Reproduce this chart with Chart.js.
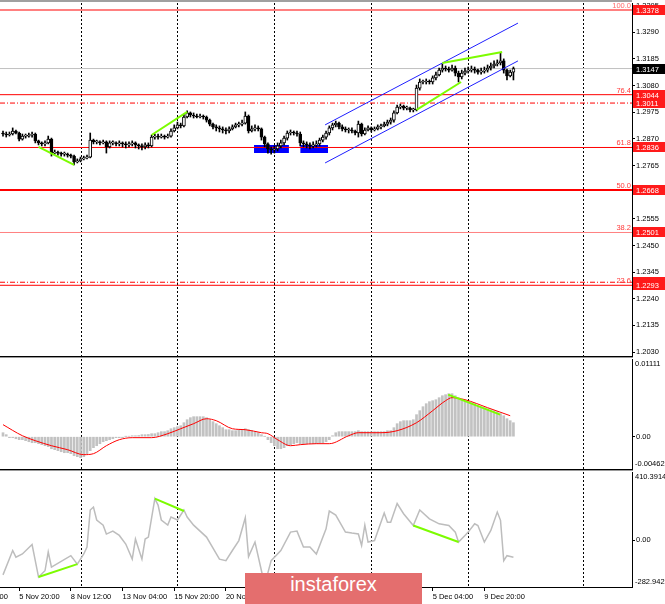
<!DOCTYPE html>
<html>
<head>
<meta charset="utf-8">
<script src="https://cdn.jsdelivr.net/npm/chart.js@4.4.0/dist/chart.umd.min.js"></script>
<style>
  body { margin: 0; background: #fff; }
  #wrap { position: relative; width: 665px; height: 604px; overflow: hidden; background: #fff; }
  #wrap canvas { position: absolute; left: 0; }
  #logo {
    position: absolute; left: 245px; top: 573px; width: 177px; height: 31px;
    background: #e46e6e; color: #fff; text-align: center; line-height: 31px;
    font: 20px "Liberation Sans", Arial, sans-serif;
  }
</style>
</head>
<body>
<div id="wrap">
  <canvas id="price" width="665" height="358" style="top:0"></canvas>
  <canvas id="macd" width="665" height="113" style="top:358px"></canvas>
  <canvas id="cci" width="665" height="133" style="top:471px"></canvas>
  <div id="logo">instaforex</div>
</div>
<script>
// GBPUSD H4 - bougies, MACD et CCI (style MT4)

// axe du temps (index de barre)
const X_MIN = -0.93, X_MAX = 194.7;
const timeBars = [-11, 5, 21, 37, 53, 69, 85, 101, 117, 133, 149];
const timeLabels = ['4 Nov 00:00', '5 Nov 20:00', '8 Nov 12:00', '13 Nov 04:00', '15 Nov 20:00', '20 Nov 12:00',
  '25 Nov 04:00', '27 Nov 20:00', '2 Dec 12:00', '5 Dec 04:00', '9 Dec 20:00'];
const gridBars = [24, 54, 84, 114, 144, 179.6];

// prix
const priceRange = [1.20144, 1.34052];
const priceTicks = [1.3395, 1.3290, 1.3185, 1.3080, 1.2975, 1.2870, 1.2765, 1.2660, 1.2555, 1.2450, 1.2345, 1.2240, 1.2135, 1.2030];
const firstOpen = 1.2893;
const closes = [
  1.2889, 1.2885, 1.2889, 1.2901, 1.2893, 1.2869, 1.2881, 1.2881, 1.2885, 1.2889,
  1.2862, 1.2854, 1.2850, 1.2854, 1.2869, 1.2814, 1.2818, 1.2814, 1.2810, 1.2810,
  1.2806, 1.2802, 1.2779, 1.2783, 1.2791, 1.2795, 1.2798, 1.2865, 1.2858, 1.2858,
  1.2854, 1.2858, 1.2838, 1.2854, 1.2854, 1.2850, 1.2854, 1.2850, 1.2846, 1.2850,
  1.2854, 1.2846, 1.2842, 1.2838, 1.2846, 1.2842, 1.2877, 1.2881, 1.2877, 1.2881,
  1.2877, 1.2881, 1.2901, 1.2913, 1.2925, 1.2921, 1.2956, 1.2972, 1.2964, 1.2960,
  1.2956, 1.2960, 1.2956, 1.2944, 1.2928, 1.2917, 1.2913, 1.2909, 1.2905, 1.2901,
  1.2909, 1.2917, 1.2925, 1.2928, 1.2932, 1.2960, 1.2901, 1.2909, 1.2913, 1.2909,
  1.2877, 1.2850, 1.2830, 1.2826, 1.2830, 1.2842, 1.2854, 1.2873, 1.2893, 1.2897,
  1.2893, 1.2889, 1.2854, 1.2850, 1.2846, 1.2842, 1.2846, 1.2850, 1.2865, 1.2877,
  1.2893, 1.2913, 1.2925, 1.2932, 1.2917, 1.2909, 1.2905, 1.2905, 1.2901, 1.2893,
  1.2928, 1.2889, 1.2905, 1.2913, 1.2905, 1.2909, 1.2917, 1.2921, 1.2928, 1.2936,
  1.2944, 1.2972, 1.2995, 1.2999, 1.2991, 1.2991, 1.2984, 1.2984, 1.3070, 1.3094,
  1.3094, 1.3098, 1.3094, 1.3110, 1.3122, 1.3141, 1.3149, 1.3145, 1.3141, 1.3149,
  1.3129, 1.3114, 1.3129, 1.3137, 1.3141, 1.3145, 1.3141, 1.3133, 1.3137, 1.3141,
  1.3149, 1.3157, 1.3165, 1.3169, 1.3177, 1.3141, 1.3118, 1.3133, 1.3147
];
const highs = [
  1.2901, 1.2897, 1.2897, 1.2913, 1.2905, 1.2897, 1.2889, 1.2889, 1.2893, 1.2897,
  1.2893, 1.2865, 1.2858, 1.2862, 1.2881, 1.2873, 1.2826, 1.2822, 1.2818, 1.2818,
  1.2814, 1.2810, 1.2806, 1.2791, 1.2798, 1.2802, 1.2806, 1.2893, 1.2869, 1.2865,
  1.2862, 1.2865, 1.2862, 1.2862, 1.2862, 1.2858, 1.2862, 1.2858, 1.2858, 1.2858,
  1.2862, 1.2858, 1.2850, 1.2850, 1.2854, 1.2854, 1.2885, 1.2889, 1.2889, 1.2889,
  1.2885, 1.2889, 1.2909, 1.2925, 1.2936, 1.2932, 1.2968, 1.2980, 1.2976, 1.2972,
  1.2968, 1.2968, 1.2964, 1.2960, 1.2948, 1.2932, 1.2925, 1.2921, 1.2917, 1.2913,
  1.2917, 1.2925, 1.2932, 1.2936, 1.2944, 1.2976, 1.2964, 1.2921, 1.2925, 1.2921,
  1.2913, 1.2881, 1.2854, 1.2838, 1.2842, 1.2854, 1.2865, 1.2881, 1.2901, 1.2905,
  1.2901, 1.2901, 1.2897, 1.2862, 1.2858, 1.2854, 1.2858, 1.2862, 1.2873, 1.2885,
  1.2901, 1.2921, 1.2932, 1.2940, 1.2936, 1.2925, 1.2917, 1.2913, 1.2913, 1.2905,
  1.2940, 1.2932, 1.2913, 1.2921, 1.2917, 1.2917, 1.2925, 1.2928, 1.2936, 1.2944,
  1.2952, 1.2980, 1.3003, 1.3007, 1.3003, 1.2999, 1.2995, 1.2991, 1.3082, 1.3106,
  1.3102, 1.3106, 1.3102, 1.3118, 1.3133, 1.3149, 1.3165, 1.3157, 1.3153, 1.3161,
  1.3157, 1.3137, 1.3141, 1.3149, 1.3153, 1.3157, 1.3153, 1.3145, 1.3149, 1.3153,
  1.3161, 1.3169, 1.3177, 1.3181, 1.3208, 1.3185, 1.3145, 1.3141, 1.3153
];
const lows = [
  1.2881, 1.2877, 1.2881, 1.2885, 1.2889, 1.2862, 1.2865, 1.2873, 1.2877, 1.2877,
  1.2854, 1.2846, 1.2842, 1.2842, 1.2850, 1.2802, 1.2810, 1.2806, 1.2802, 1.2802,
  1.2798, 1.2795, 1.2767, 1.2775, 1.2779, 1.2787, 1.2791, 1.2795, 1.2850, 1.2850,
  1.2846, 1.2850, 1.2814, 1.2834, 1.2846, 1.2842, 1.2842, 1.2838, 1.2834, 1.2838,
  1.2842, 1.2834, 1.2830, 1.2826, 1.2830, 1.2834, 1.2838, 1.2869, 1.2869, 1.2873,
  1.2869, 1.2873, 1.2877, 1.2897, 1.2909, 1.2913, 1.2917, 1.2952, 1.2956, 1.2952,
  1.2952, 1.2952, 1.2948, 1.2936, 1.2921, 1.2909, 1.2901, 1.2897, 1.2893, 1.2889,
  1.2893, 1.2905, 1.2913, 1.2917, 1.2921, 1.2928, 1.2893, 1.2897, 1.2901, 1.2901,
  1.2865, 1.2838, 1.2814, 1.2810, 1.2814, 1.2822, 1.2834, 1.2846, 1.2865, 1.2885,
  1.2885, 1.2881, 1.2842, 1.2838, 1.2834, 1.2830, 1.2834, 1.2838, 1.2842, 1.2858,
  1.2869, 1.2885, 1.2905, 1.2917, 1.2909, 1.2901, 1.2897, 1.2893, 1.2893, 1.2885,
  1.2877, 1.2881, 1.2885, 1.2901, 1.2897, 1.2901, 1.2905, 1.2909, 1.2917, 1.2921,
  1.2928, 1.2936, 1.2968, 1.2988, 1.2984, 1.2984, 1.2976, 1.2976, 1.2980, 1.3062,
  1.3086, 1.3086, 1.3086, 1.3086, 1.3102, 1.3118, 1.3133, 1.3137, 1.3133, 1.3137,
  1.3118, 1.3094, 1.3106, 1.3122, 1.3129, 1.3133, 1.3129, 1.3125, 1.3125, 1.3129,
  1.3133, 1.3141, 1.3149, 1.3157, 1.3161, 1.3129, 1.3102, 1.3114, 1.3102
];

// niveaux de Fibonacci et lignes horizontales
const fibLevels = [1.3378, 1.3044, 1.2836, 1.2668, 1.2501, 1.2293];
const fibNames = ['100.0', '76.4', '61.8', '50.0', '38.2', '23.6'];
const dashLevels = [1.3011, 1.2305];
const bidPrice = 1.3147;
const tagLevels = [1.3378, 1.3044, 1.3011, 1.2836, 1.2668, 1.2501, 1.2305, 1.2293];

// objets dessinés
const zoneBars = [[77.7, 88.5], [92, 100.6]];
const zonePrices = [1.2846, 1.2814];
const channelUpper = [[99.7, 1.2925], [159.4, 1.3326]];
const channelLower = [[99.7, 1.2775], [159.4, 1.3177]];
const priceGreen = [
  [[11, 1.2838], [22, 1.2767]],
  [[46, 1.2885], [57, 1.2976]],
  [[136, 1.3169], [154.5, 1.3212]],
  [[128, 1.2984], [141.8, 1.3094]]
];

// MACD
const macdRange = [-0.00462, 0.01111];
const macdHist = [
  0.00057, 0.00029, -0.00014, -0.00014, -0.00029, -0.00043, -0.00043, -0.00057, -0.00072, -0.00086,
  -0.00086, -0.00100, -0.00114, -0.00129, -0.00143, -0.00172, -0.00186, -0.00200, -0.00215, -0.00229,
  -0.00229, -0.00243, -0.00272, -0.00286, -0.00300, -0.00286, -0.00243, -0.00200, -0.00157, -0.00129,
  -0.00100, -0.00072, -0.00057, -0.00043, -0.00029, -0.00014, -0.00014, -0.00014, 0.00003, 0.00005,
  0.00014, 0.00014, 0.00017, 0.00029, 0.00029, 0.00032, 0.00043, 0.00043, 0.00057, 0.00072,
  0.00072, 0.00086, 0.00114, 0.00129, 0.00143, 0.00157, 0.00200, 0.00243, 0.00272, 0.00286,
  0.00286, 0.00286, 0.00286, 0.00272, 0.00243, 0.00215, 0.00186, 0.00157, 0.00129, 0.00100,
  0.00100, 0.00086, 0.00086, 0.00100, 0.00100, 0.00114, 0.00100, 0.00086, 0.00072, 0.00057,
  0.00029, 0.00003, -0.00043, -0.00086, -0.00129, -0.00172, -0.00172, -0.00157, -0.00129, -0.00114,
  -0.00100, -0.00086, -0.00100, -0.00100, -0.00100, -0.00100, -0.00100, -0.00100, -0.00086, -0.00086,
  -0.00072, -0.00043, 0.00014, 0.00057, 0.00072, 0.00072, 0.00072, 0.00072, 0.00072, 0.00072,
  0.00086, 0.00072, 0.00072, 0.00072, 0.00072, 0.00072, 0.00072, 0.00072, 0.00072, 0.00086,
  0.00086, 0.00129, 0.00186, 0.00215, 0.00229, 0.00229, 0.00229, 0.00243, 0.00315, 0.00372,
  0.00429, 0.00472, 0.00501, 0.00515, 0.00529, 0.00558, 0.00586, 0.00601, 0.00615, 0.00615,
  0.00586, 0.00558, 0.00529, 0.00515, 0.00501, 0.00486, 0.00472, 0.00443, 0.00429, 0.00415,
  0.00400, 0.00386, 0.00372, 0.00358, 0.00329, 0.00300, 0.00257, 0.00229, 0.00200
];
const signalBars = [0, 6, 10, 15, 20, 25, 28, 32, 36, 40, 46, 51, 55, 59, 63, 66, 71, 75, 80, 82,
  85, 89, 92, 97, 101, 107, 110, 117, 122, 128, 133, 137, 139, 143, 150, 157];
const signalValues = [0.00172, 0.00014, -0.00057, -0.00129, -0.00186, -0.00257, -0.00243, -0.00129, -0.00043, -0.00014,
  -0.00014, 0.00043, 0.00114, 0.00186, 0.00257, 0.00229, 0.00114, 0.00100, 0.00057, 0.00043,
  -0.00043, -0.00129, -0.00114, -0.00100, -0.00100, 0.00014, 0.00057, 0.00057, 0.00086, 0.00200,
  0.00372, 0.00515, 0.00558, 0.00529, 0.00415, 0.00300];
const macdGreen = [[137.8, 0.00601], [153.9, 0.00315]];

// CCI
const cciRange = [-282.942, 410.3914];
const cciBars = [0, 3, 4, 6, 9, 11, 13, 14, 15, 21, 23, 25, 26, 27, 28, 29, 31, 32, 34, 36,
  38, 40, 41, 43, 44, 45, 47, 48, 49, 51, 52, 54, 56, 57, 59, 63, 67, 69, 71, 73,
  75, 76, 78, 80, 81, 83, 86, 89, 91, 93, 95, 97, 100, 101, 103, 106, 108, 110, 111, 112,
  113, 115, 118, 119, 120, 122, 124, 127, 129, 132, 135, 138, 140, 141, 143, 144, 146, 147, 149, 151,
  153, 154, 155, 156, 158];
const cciValues = [-210, -63, -103, -84, -27, -223, -185, -72, -163, -94, -145, -84, -42, 181, 199, 121, 90, 36, 54, 28,
  -24, -115, 6, -115, 6, 18, 250, 211, 121, 90, 139, 121, 181, 139, 90, 18, -115, -124, -63, -3,
  135, -100, -12, -185, -270, -124, -63, 48, 54, -42, -42, -84, 68, 175, 151, 48, 42, 37, -33, 90,
  -12, -3, 163, 108, 108, 220, 159, 88, 181, 128, 98, 88, 48, -12, 28, 48, 98, 88, -12, 58,
  169, 119, -124, -94, -103];
const cciGreen = [
  [[11, -223], [23, -145]],
  [[47, 250], [56, 175]],
  [[127, 88], [141, -12]]
];

// ---------- helpers ----------
const FONT = "'Liberation Sans', Arial, sans-serif";
const axisFont = { family: FONT, size: 7.5 };
const LIME = '#7cfc00';
const opens = closes.map((c, i) => i ? closes[i - 1] : firstOpen);

function fixSize(size, horizontal) {
  return s => {
    if (horizontal) s.height = size; else s.width = size;
    s.paddingLeft = s.paddingRight = s.paddingTop = s.paddingBottom = 0;
  };
}

function hiddenX() {
  return { type: 'linear', min: X_MIN, max: X_MAX, bounds: 'data', offset: false, display: false, afterFit: fixSize(0, true) };
}

function rightAxis(range, tickValues, fmt) {
  return {
    type: 'linear', position: 'right', min: range[0], max: range[1], bounds: 'data', beginAtZero: false,
    afterFit: fixSize(33, false),
    afterBuildTicks: s => { s.ticks = tickValues.map(v => ({ value: v })); },
    grid: { drawOnChartArea: false, tickLength: 3, color: '#000', lineWidth: 1 },
    border: { display: true, color: '#000', width: 1 },
    ticks: { font: axisFont, color: '#000', padding: 1, autoSkip: false, callback: fmt }
  };
}

function seg(pts, color, width, order, dash) {
  return {
    type: 'line', data: pts.map(([x, y]) => ({ x, y })), borderColor: color, borderWidth: width,
    borderDash: dash || [], pointRadius: 0, fill: false, order
  };
}

function hLine(v, color, width, order, dash) {
  return seg([[X_MIN, v], [X_MAX, v]], color, width, order, dash);
}

const weekLines = {
  id: 'weekLines',
  beforeDatasetsDraw(chart) {
    const { ctx, chartArea: a, scales: { x } } = chart;
    ctx.save();
    ctx.strokeStyle = '#000';
    ctx.lineWidth = 1;
    ctx.setLineDash([2, 2]);
    gridBars.forEach(b => {
      const px = Math.round(x.getPixelForValue(b)) + 0.5;
      ctx.beginPath();
      ctx.moveTo(px, a.top);
      ctx.lineTo(px, a.bottom);
      ctx.stroke();
    });
    ctx.restore();
  }
};

function separator(ctx, a, y) {
  ctx.fillStyle = '#000';
  ctx.fillRect(0, y, a.right + 1, 1);
  ctx.fillStyle = '#9a9a9a';
  ctx.fillRect(0, y + 1, a.right + 1, 1);
}

function sideLabels(top, bottom, sep) {
  return {
    id: 'sideLabels',
    afterDraw(chart) {
      const { ctx, chartArea: a } = chart;
      ctx.save();
      ctx.font = `7.5px ${FONT}`;
      ctx.fillStyle = '#000';
      ctx.textAlign = 'left';
      ctx.textBaseline = 'middle';
      ctx.fillText(top, a.right + 3, a.top + 4.5);
      ctx.fillText(bottom, a.right + 3, a.bottom - 5);
      if (sep) separator(ctx, a, a.bottom);
      ctx.restore();
    }
  };
}

// ---------- graphique des prix ----------
const fibColors = ['#ff8080', '#ff0000', '#ff0000', '#ff0000', '#ff8080', '#ff0000'];
const fibWidths = [2, 1, 1, 2, 1, 1];

const priceDecor = {
  id: 'priceDecor',
  afterDraw(chart) {
    const { ctx, chartArea: a, scales: { y } } = chart;
    ctx.save();
    ctx.fillStyle = '#a0a0a0';
    ctx.fillRect(0, 0, a.right, 2);
    separator(ctx, a, a.bottom);

    ctx.font = `7.5px ${FONT}`;
    ctx.textAlign = 'right';
    ctx.textBaseline = 'alphabetic';
    fibLevels.forEach((v, i) => {
      ctx.fillStyle = i === 0 ? '#ff6a6a' : '#ff3a3a';
      ctx.fillText(fibNames[i], a.right - 1, y.getPixelForValue(v) - 2);
    });

    ctx.textAlign = 'left';
    ctx.textBaseline = 'middle';
    const tags = tagLevels.map(v => [v, '#ff1a1a']).concat([[bidPrice, '#000']]);
    tags.forEach(([v, bg]) => {
      const py = Math.round(y.getPixelForValue(v));
      ctx.fillStyle = bg;
      ctx.fillRect(a.right + 1, py - 5, 33, 10);
      ctx.fillStyle = '#fff';
      ctx.fillText(v.toFixed(4), a.right + 4, py + 0.5);
    });
    ctx.restore();
  }
};

const priceSets = [];
zoneBars.forEach(([b0, b1]) => {
  priceSets.push({
    type: 'line', data: [{ x: b0, y: zonePrices[0] }, { x: b1, y: zonePrices[0] }],
    fill: { value: zonePrices[1] }, backgroundColor: '#0000ff', borderWidth: 0, pointRadius: 0, order: 9
  });
});
fibLevels.forEach((v, i) => priceSets.push(hLine(v, fibColors[i], fibWidths[i], 7)));
dashLevels.forEach(v => priceSets.push(hLine(v, '#ff0000', 1, 7, [5, 2, 1, 2])));
priceSets.push(hLine(bidPrice, '#c0c0c0', 1, 8));
priceSets.push({
  type: 'bar', grouped: false, order: 4, barThickness: 1,
  data: closes.map((c, i) => ({ x: i, y: [lows[i], highs[i]] })),
  backgroundColor: '#000', borderWidth: 0
});
priceSets.push({
  type: 'bar', grouped: false, order: 3, barThickness: 3, minBarLength: 1,
  data: closes.map((c, i) => ({ x: i, y: [opens[i], c] })),
  backgroundColor: ctx => closes[ctx.dataIndex] >= opens[ctx.dataIndex] ? '#fff' : '#000',
  borderColor: '#000', borderWidth: 1, borderSkipped: false
});
priceSets.push(seg(channelUpper, '#1f1fff', 1, 1));
priceSets.push(seg(channelLower, '#1f1fff', 1, 1));
priceGreen.forEach(g => priceSets.push(seg(g, LIME, 2, 0)));

const baseOptions = {
  responsive: false,
  animation: false,
  events: [],
  plugins: { legend: { display: false }, tooltip: { enabled: false } }
};

new Chart(document.getElementById('price'), {
  type: 'bar',
  data: { datasets: priceSets },
  options: {
    ...baseOptions,
    layout: { autoPadding: false, padding: { top: 3, bottom: 2, left: 0, right: 0 } },
    scales: {
      x: hiddenX(),
      y: rightAxis(priceRange, priceTicks, v => v.toFixed(4))
    }
  },
  plugins: [weekLines, priceDecor]
});

// ---------- MACD ----------
new Chart(document.getElementById('macd'), {
  type: 'bar',
  data: {
    datasets: [
      seg(macdGreen, LIME, 2, 0),
      {
        type: 'line', order: 1, borderColor: '#ff0000', borderWidth: 1, pointRadius: 0,
        cubicInterpolationMode: 'monotone',
        data: signalBars.map((b, i) => ({ x: b, y: signalValues[i] }))
      },
      {
        type: 'bar', order: 2, grouped: false, barThickness: 2,
        data: macdHist.map((v, i) => ({ x: i, y: v })),
        backgroundColor: '#c2c2c2', borderWidth: 0
      }
    ]
  },
  options: {
    ...baseOptions,
    layout: { autoPadding: false, padding: { top: 1, bottom: 2, left: 0, right: 0 } },
    scales: {
      x: hiddenX(),
      y: rightAxis(macdRange, [0], () => '0.00')
    }
  },
  plugins: [weekLines, sideLabels(String(macdRange[1]), String(macdRange[0]), true)]
});

// ---------- CCI ----------
const cciSets = [{
  type: 'line', order: 1, borderColor: '#bdbdbd', borderWidth: 1.5, pointRadius: 0,
  data: cciBars.map((b, i) => ({ x: b, y: cciValues[i] }))
}];
cciGreen.forEach(g => cciSets.push(seg(g, LIME, 2, 0)));

new Chart(document.getElementById('cci'), {
  type: 'line',
  data: { datasets: cciSets },
  options: {
    ...baseOptions,
    layout: { autoPadding: false, padding: { top: 1, bottom: 0, left: 0, right: 0 } },
    scales: {
      x: {
        type: 'linear', position: 'bottom', min: X_MIN, max: X_MAX, bounds: 'data', offset: false,
        afterFit: fixSize(17, true),
        afterBuildTicks: s => { s.ticks = timeBars.map(v => ({ value: v })); },
        grid: { drawOnChartArea: false, tickLength: 4, color: '#000' },
        border: { display: true, color: '#000', width: 1 },
        ticks: {
          font: axisFont, color: '#000', align: 'start', padding: 1,
          maxRotation: 0, minRotation: 0, autoSkip: false,
          callback: (v, i) => timeLabels[i]
        }
      },
      y: rightAxis(cciRange, [0], () => '0.00')
    }
  },
  plugins: [weekLines, sideLabels(String(cciRange[1]), String(cciRange[0]), false)]
});
</script>
</body>
</html>
